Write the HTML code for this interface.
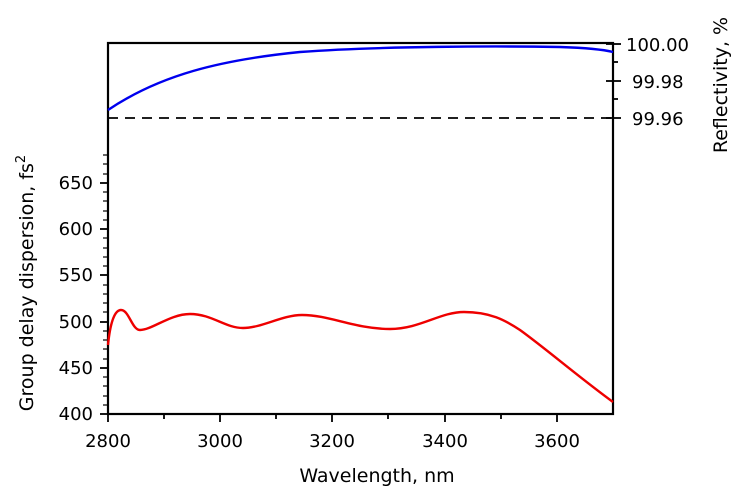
<!DOCTYPE html>
<html><head><style>body{margin:0;background:#fff}svg{display:block;font-family:"DejaVu Sans","Liberation Sans",sans-serif}</style></head><body>
<svg width="739" height="500" viewBox="0 0 739 500">
<rect x="108" y="43" width="505" height="371" stroke="#000" stroke-width="2.2" fill="none"/>
<g stroke="#000" stroke-width="1.8">
<line x1="100" y1="414" x2="108" y2="414"/><line x1="100" y1="368" x2="108" y2="368"/><line x1="100" y1="322" x2="108" y2="322"/><line x1="100" y1="275" x2="108" y2="275"/><line x1="100" y1="229" x2="108" y2="229"/><line x1="100" y1="183" x2="108" y2="183"/>
</g>
<g stroke="#000" stroke-width="1.2">
<line x1="103" y1="405" x2="108" y2="405"/><line x1="103" y1="396" x2="108" y2="396"/><line x1="103" y1="386" x2="108" y2="386"/><line x1="103" y1="377" x2="108" y2="377"/>
<line x1="103" y1="359" x2="108" y2="359"/><line x1="103" y1="349" x2="108" y2="349"/><line x1="103" y1="340" x2="108" y2="340"/><line x1="103" y1="331" x2="108" y2="331"/>
<line x1="103" y1="312" x2="108" y2="312"/><line x1="103" y1="303" x2="108" y2="303"/><line x1="103" y1="294" x2="108" y2="294"/><line x1="103" y1="285" x2="108" y2="285"/>
<line x1="103" y1="266" x2="108" y2="266"/><line x1="103" y1="257" x2="108" y2="257"/><line x1="103" y1="248" x2="108" y2="248"/><line x1="103" y1="238" x2="108" y2="238"/>
<line x1="103" y1="220" x2="108" y2="220"/><line x1="103" y1="211" x2="108" y2="211"/><line x1="103" y1="201" x2="108" y2="201"/><line x1="103" y1="192" x2="108" y2="192"/>
<line x1="103" y1="174" x2="108" y2="174"/><line x1="103" y1="164" x2="108" y2="164"/><line x1="103" y1="155" x2="108" y2="155"/>
</g>
<g stroke="#000" stroke-width="1.8">
<line x1="108" y1="414" x2="108" y2="422"/><line x1="220" y1="414" x2="220" y2="422"/><line x1="332" y1="414" x2="332" y2="422"/><line x1="445" y1="414" x2="445" y2="422"/><line x1="557" y1="414" x2="557" y2="422"/>
<line x1="164" y1="414" x2="164" y2="419"/><line x1="276" y1="414" x2="276" y2="419"/><line x1="388" y1="414" x2="388" y2="419"/><line x1="501" y1="414" x2="501" y2="419"/>
<line x1="606" y1="44" x2="621" y2="44"/><line x1="606" y1="81" x2="621" y2="81"/><line x1="606" y1="118" x2="621" y2="118"/>
<line x1="613" y1="62" x2="618" y2="62"/><line x1="613" y1="99" x2="618" y2="99"/>
</g>
<line x1="108" y1="118" x2="613" y2="118" stroke="#000" stroke-width="1.8" stroke-dasharray="10,7"/>
<path d="M108,110 C160,75 220,60 300,52 C380,46 500,46 560,47 C590,48 605,50 613,52" stroke="#0000ee" stroke-width="2.4" fill="none"/>
<path d="M108,345 C110,325 114,310 121,310 C129,310 132,330 140,330 C152,330 170,314 190,314 C212,314 225,328 243,328 C262,328 282,315 302,315 C330,315 355,329 390,329 C420,329 440,312 464,312 C490,312 505,320 520,330 C545,348 580,378 613,402" stroke="#ee0000" stroke-width="2.4" fill="none"/>
<g font-size="18" fill="#000" text-anchor="end">
<text x="93" y="420">400</text><text x="93" y="374">450</text><text x="93" y="328">500</text><text x="93" y="281">550</text><text x="93" y="235">600</text><text x="93" y="189">650</text>
</g>
<g font-size="18" fill="#000" text-anchor="middle">
<text x="108" y="447">2800</text><text x="220" y="447">3000</text><text x="332" y="447">3200</text><text x="445" y="447">3400</text><text x="557" y="447">3600</text>
<text x="377" y="482" font-size="19">Wavelength, nm</text>
</g>
<g font-size="18" fill="#000">
<text x="626" y="51">100.00</text><text x="632" y="88">99.98</text><text x="632" y="125">99.96</text>
</g>
<text transform="translate(33,283) rotate(-90)" font-size="19" text-anchor="middle">Group delay dispersion, fs<tspan font-size="13" dy="-8">2</tspan></text>
<text transform="translate(727,85) rotate(-90)" font-size="19" text-anchor="middle">Reflectivity, %</text>
</svg>
</body></html>
